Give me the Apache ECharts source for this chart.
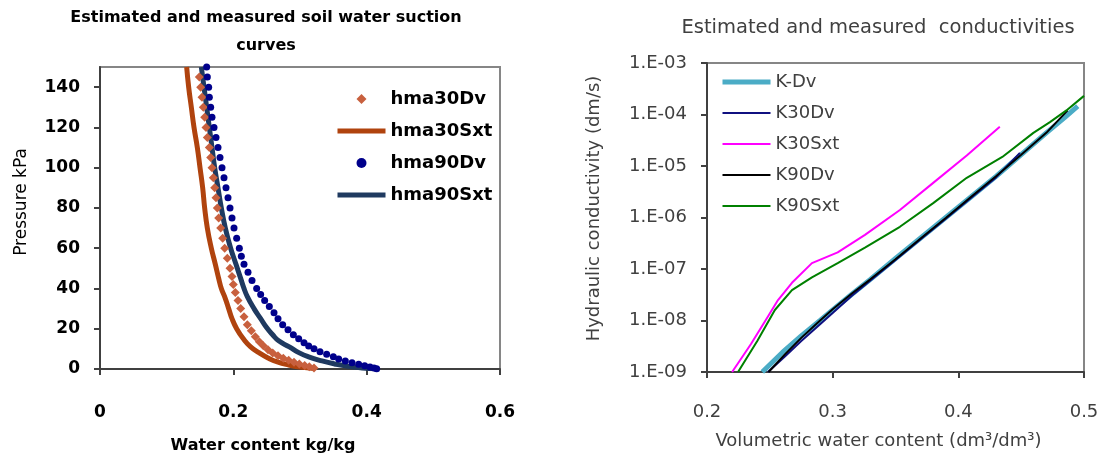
<!DOCTYPE html>
<html>
<head>
<meta charset="utf-8">
<script src="https://cdn.jsdelivr.net/npm/echarts@6/dist/echarts.min.js"></script>
<style>
  html, body { margin: 0; padding: 0; background: #fff; }
  #chart { width: 1105px; height: 459px; }
</style>
</head>
<body>
<div id="chart"></div>
<script>
// left chart: suction curves (water content kg/kg, pressure kPa)
const p30Dv = [145, 140, 135, 130, 125, 120, 115, 110, 105, 100, 95, 90, 85, 80, 75, 70, 65, 60, 55, 50,
  46, 42, 38, 34, 30, 26, 22, 19, 16, 13.5, 11.5, 9.5, 8, 6.6, 5.4, 4.3, 3.3, 2.5, 1.7, 1.1, 0.5];
const w30Dv = [.149, .151, .153, .155, .157, .159, .161, .164, .166, .168, .170, .172, .174, .176, .178, .181, .184, .187, .191, .195,
  .198, .200, .203, .207, .211, .216, .221, .227, .233, .239, .245, .252, .259, .267, .275, .283, .291, .299, .307, .314, .321];

const p30Sxt = [150, 140, 130, 120, 110, 100, 90, 80, 70, 60, 52, 45, 40, 35, 30, 25, 20, 15, 11, 8, 5.5, 3.5, 2, 1, 0.3];
const w30Sxt = [.130, .133, .137, .141, .146, .150, .154, .157, .161, .167, .173, .178, .182, .188, .193, .198, .205, .215, .226, .239, .252, .266, .283, .300, .321];

const p90Dv = [150, 145, 140, 135, 130, 125, 120, 115, 110, 105, 100, 95, 90, 85, 80, 75, 70, 65, 60, 56,
  52, 48, 44, 40, 37, 34, 31, 28, 25, 22, 19.5, 17, 15, 13, 11.4, 10, 8.6, 7.3, 6.1, 5.0, 4.0, 3.1, 2.3, 1.6, 1.0, 0.5, 0.1];
const w90Dv = [.160, .161, .163, .164, .166, .168, .171, .174, .177, .180, .183, .186, .189, .192, .195, .198, .201, .205, .209, .212,
  .216, .222, .228, .235, .241, .247, .254, .261, .267, .274, .282, .290, .298, .306, .313, .321, .330, .340, .350, .358, .368, .378, .388, .397, .405, .411, .415];

const p90Sxt = [150, 140, 130, 120, 110, 100, 90, 80, 70, 60, 52, 45, 40, 36, 30, 25, 21, 17, 14, 11, 8, 6, 4, 2.5, 1.3, 0.5, 0.1];
const w90Sxt = [.152, .156, .160, .164, .168, .172, .177, .182, .188, .196, .204, .211, .216, .221, .231, .241, .249, .259, .268, .284, .299, .313, .333, .352, .372, .393, .413];

const pressureTicks = [0, 20, 40, 60, 80, 100, 120, 140];

// right chart: conductivity (dm/s) vs volumetric water content
const thKDv = [0.244, 0.260, 0.275, 0.290, 0.300, 0.315, 0.330, 0.350, 0.370, 0.390, 0.410, 0.430, 0.450, 0.470, 0.485, 0.495];
const kKDv = [1.0e-9, 2.4e-9, 5.0e-9, 1.0e-8, 1.6e-8, 3.2e-8, 6.3e-8, 1.6e-7, 4.0e-7, 1.0e-6, 2.5e-6, 6.3e-6, 1.66e-5, 4.4e-5, 8.9e-5, 1.45e-4];

const th30Dv = [0.2485, 0.262, 0.275, 0.290, 0.300, 0.315, 0.330, 0.350, 0.370, 0.390, 0.410, 0.430, 0.449];
const k30Dv = [1.0e-9, 2.0e-9, 4.0e-9, 8.5e-9, 1.4e-8, 3.0e-8, 6.0e-8, 1.5e-7, 3.8e-7, 9.5e-7, 2.4e-6, 6.0e-6, 1.8e-5];

const th30Sxt = [0.220, 0.235, 0.2485, 0.2565, 0.2676, 0.2835, 0.304, 0.3257, 0.3535, 0.380, 0.4067, 0.433];
const k30Sxt = [1.0e-9, 3.5e-9, 1.2e-8, 2.5e-8, 5.4e-8, 1.3e-7, 2.1e-7, 4.6e-7, 1.4e-6, 4.7e-6, 1.6e-5, 5.8e-5];

const th90Dv = [0.249, 0.262, 0.275, 0.290, 0.300, 0.315, 0.330, 0.350, 0.370, 0.390, 0.410, 0.430, 0.450, 0.470, 0.487];
const k90Dv = [1.0e-9, 2.2e-9, 4.6e-9, 1.0e-8, 1.65e-8, 3.3e-8, 6.3e-8, 1.55e-7, 3.9e-7, 9.8e-7, 2.5e-6, 6.3e-6, 1.65e-5, 4.4e-5, 1.2e-4];

const th90Sxt = [0.2247, 0.240, 0.254, 0.2676, 0.2835, 0.304, 0.3257, 0.3535, 0.380, 0.4067, 0.435, 0.4597, 0.4729, 0.486, 0.500];
const k90Sxt = [1.0e-9, 4.0e-9, 1.6e-8, 3.9e-8, 6.9e-8, 1.3e-7, 2.6e-7, 6.6e-7, 1.9e-6, 5.9e-6, 1.5e-5, 4.4e-5, 7.1e-5, 1.2e-4, 2.3e-4];

const zip = (xs, ys) => xs.map((x, i) => [x, ys[i]]);

const FONT = '"DejaVu Sans", sans-serif';
const leftText = { fontFamily: FONT, fontSize: 17, fontWeight: 'bold', color: '#000' };
const rightText = { fontFamily: FONT, fontSize: 18, color: '#404040' };

// legend entry for a plain line: hide the default middle symbol
const lineItem = (name, width) => ({ name, itemStyle: { opacity: 0 }, lineStyle: { width } });

const chart = echarts.init(document.getElementById('chart'));

const option = {
  animation: false,
  backgroundColor: '#fff',
  graphic: [
    {
      type: 'text', x: 266, y: 18,
      style: { text: 'Estimated and measured soil water suction', textAlign: 'center', textVerticalAlign: 'middle',
        font: 'bold 16px "DejaVu Sans"', fill: '#000' }
    },
    {
      type: 'text', x: 266, y: 46,
      style: { text: 'curves', textAlign: 'center', textVerticalAlign: 'middle',
        font: 'bold 16px "DejaVu Sans"', fill: '#000' }
    },
    {
      type: 'text', x: 878, y: 28,
      style: { text: 'Estimated and measured  conductivities', textAlign: 'center', textVerticalAlign: 'middle',
        font: '19.5px "DejaVu Sans"', fill: '#404040' }
    }
  ],
  grid: [
    { left: 100, top: 67, width: 400, height: 303, show: true, borderColor: '#868686', borderWidth: 2 },
    { left: 707, top: 63, width: 377, height: 309, show: true, borderColor: '#868686', borderWidth: 2 }
  ],
  legend: [
    {
      orient: 'vertical', left: 335, top: 90, padding: 0,
      itemWidth: 48, itemHeight: 10, itemGap: 14, symbolKeepAspect: true,
      textStyle: { fontFamily: FONT, fontSize: 18, fontWeight: 'bold', color: '#000' },
      data: [
        { name: 'hma30Dv', icon: 'path://M5,0L10,5L5,10L0,5Z' },
        lineItem('hma30Sxt', 5),
        { name: 'hma90Dv', icon: 'path://M5,1A4,4,0,1,1,5,9A4,4,0,1,1,5,1Z' },
        lineItem('hma90Sxt', 5)
      ]
    },
    {
      orient: 'vertical', left: 720, top: 73, padding: 0,
      itemWidth: 48, itemHeight: 10, itemGap: 13,
      textStyle: { fontFamily: FONT, fontSize: 18, color: '#404040' },
      data: [
        lineItem('K-Dv', 5),
        lineItem('K30Dv', 2),
        lineItem('K30Sxt', 2),
        lineItem('K90Dv', 2),
        lineItem('K90Sxt', 2)
      ]
    }
  ],
  xAxis: [
    {
      gridIndex: 0, type: 'value', min: 0, max: 0.6, interval: 0.2,
      name: 'Water content kg/kg', nameLocation: 'middle', nameGap: 69,
      nameTextStyle: { fontFamily: FONT, fontSize: 16, fontWeight: 'bold', color: '#000', padding: [0, 74, 0, 0] },
      axisLine: { lineStyle: { color: '#404040', width: 2 } },
      axisTick: { length: 6, lineStyle: { color: '#404040', width: 2 } },
      axisLabel: Object.assign({ margin: 35, formatter: v => v === 0 ? '0' : v.toFixed(1) }, leftText),
      splitLine: { show: false }
    },
    {
      gridIndex: 1, type: 'value', min: 0.2, max: 0.5, interval: 0.1,
      name: 'Volumetric water content (dm\u00b3/dm\u00b3)', nameLocation: 'middle', nameGap: 60,
      nameTextStyle: { fontFamily: FONT, fontSize: 18, color: '#404040', padding: [0, 34, 0, 0] },
      axisLine: { lineStyle: { color: '#404040', width: 2 } },
      axisTick: { length: 6, lineStyle: { color: '#404040', width: 2 } },
      axisLabel: Object.assign({ margin: 31, formatter: v => v.toFixed(1) }, rightText),
      splitLine: { show: false }
    }
  ],
  yAxis: [
    {
      gridIndex: 0, type: 'value', min: 0, max: 150,
      name: 'Pressure kPa', nameLocation: 'middle', nameGap: 70,
      nameTextStyle: { fontFamily: FONT, fontSize: 17, color: '#000', padding: [0, 0, 0, 32] },
      axisLine: { lineStyle: { color: '#404040', width: 2 } },
      axisTick: { length: 6, customValues: pressureTicks, lineStyle: { color: '#404040', width: 2 } },
      axisLabel: Object.assign({ margin: 20, customValues: pressureTicks }, leftText),
      splitLine: { show: false }
    },
    {
      gridIndex: 1, type: 'log', logBase: 10, min: 1e-9, max: 1e-3, splitNumber: 6,
      name: 'Hydraulic conductivity (dm/s)', nameLocation: 'middle', nameGap: 104,
      nameTextStyle: { fontFamily: FONT, fontSize: 18, color: '#404040', padding: [0, 0, 0, 18] },
      axisLine: { lineStyle: { color: '#404040', width: 2 } },
      axisTick: { length: 6, lineStyle: { color: '#404040', width: 2 } },
      axisLabel: Object.assign({
        margin: 20,
        formatter: v => '1.E-' + String(-Math.round(Math.log10(v))).padStart(2, '0')
      }, rightText),
      splitLine: { show: false }
    }
  ],
  series: [
    {
      name: 'hma30Sxt', type: 'line', xAxisIndex: 0, yAxisIndex: 0, data: zip(w30Sxt, p30Sxt),
      symbol: 'none', smooth: true, color: '#B0430E', lineStyle: { width: 5, color: '#B0430E' }, z: 2
    },
    {
      name: 'hma90Sxt', type: 'line', xAxisIndex: 0, yAxisIndex: 0, data: zip(w90Sxt, p90Sxt),
      symbol: 'none', smooth: true, color: '#1F3A60', lineStyle: { width: 5, color: '#1F3A60' }, z: 2
    },
    {
      name: 'hma30Dv', type: 'scatter', xAxisIndex: 0, yAxisIndex: 0, data: zip(w30Dv, p30Dv),
      symbol: 'diamond', symbolSize: 9, itemStyle: { color: '#C8603E', opacity: 1 }, z: 3
    },
    {
      name: 'hma90Dv', type: 'scatter', xAxisIndex: 0, yAxisIndex: 0, data: zip(w90Dv, p90Dv),
      symbol: 'circle', symbolSize: 7, itemStyle: { color: '#00008B', opacity: 1 }, z: 3
    },
    {
      name: 'K-Dv', type: 'line', xAxisIndex: 1, yAxisIndex: 1, data: zip(thKDv, kKDv),
      symbol: 'none', color: '#4BACC6', lineStyle: { width: 5, color: '#4BACC6' }, z: 2
    },
    {
      name: 'K30Dv', type: 'line', xAxisIndex: 1, yAxisIndex: 1, data: zip(th30Dv, k30Dv),
      symbol: 'none', color: '#101080', lineStyle: { width: 2, color: '#101080' }, z: 3
    },
    {
      name: 'K30Sxt', type: 'line', xAxisIndex: 1, yAxisIndex: 1, data: zip(th30Sxt, k30Sxt),
      symbol: 'none', color: '#FF00FF', lineStyle: { width: 2, color: '#FF00FF' }, z: 3
    },
    {
      name: 'K90Dv', type: 'line', xAxisIndex: 1, yAxisIndex: 1, data: zip(th90Dv, k90Dv),
      symbol: 'none', color: '#000000', lineStyle: { width: 2, color: '#000000' }, z: 3
    },
    {
      name: 'K90Sxt', type: 'line', xAxisIndex: 1, yAxisIndex: 1, data: zip(th90Sxt, k90Sxt),
      symbol: 'none', color: '#008000', lineStyle: { width: 2, color: '#008000' }, z: 3
    }
  ]
};

chart.setOption(option);
</script>
</body>
</html>
